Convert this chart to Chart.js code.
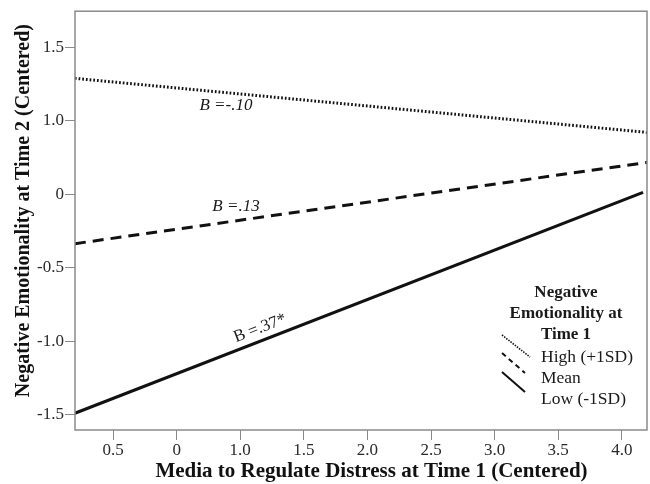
<!DOCTYPE html>
<html>
<head>
<meta charset="utf-8">
<script src="https://cdn.jsdelivr.net/npm/chart.js@4"></script>
<style>
  html, body { margin: 0; padding: 0; background: #fff; }
  #wrap { width: 650px; height: 484px; position: relative; }
</style>
</head>
<body>
<div id="wrap"><canvas id="myChart"></canvas></div>
<script>
// axis ticks as printed on the figure (labels are taken as-is)
let xTickValues = [0, 0.5, 1.0, 1.5, 2.0, 2.5, 3.0, 3.5, 4.0];
let xTickLabels = ["0.5", "0", "1.0", "1.5", "2.0", "2.5", "3.0", "3.5", "4.0"];
let yTickValues = [-1.5, -1.0, -0.5, 0, 0.5, 1.0];
let yTickLabels = ["-1.5", "-1.0", "-0.5", "0", "1.0", "1.5"];

// simple slopes, start and end of each line
let highX = [-0.3, 4.2];
let highY = [0.788, 0.420];
let meanX = [-0.3, 4.2];
let meanY = [-0.337, 0.216];
let lowX = [-0.3, 4.167];
let lowY = [-1.491, 0.012];

let seriesNames = ["High (+1SD)", "Mean", "Low (-1SD)"];
let legendTitle = ["Negative", "Emotionality at", "Time 1"];
let slopeLabels = ["B =-.10", "B =.13", "B =.37*"];

const serif = "'Liberation Serif', 'Times New Roman', serif";

function toPoints(xs, ys) {
    let pts = [];
    for (let i = 0; i < xs.length; i++) pts.push({ x: xs[i], y: ys[i] });
    return pts;
}

// box round the plot area
const frame = {
    id: "frame",
    afterDraw(chart) {
        const { ctx, chartArea: a } = chart;
        ctx.save();
        ctx.strokeStyle = "#8a8a8a";
        ctx.lineWidth = 1.5;
        ctx.strokeRect(a.left, a.top, a.right - a.left, a.bottom - a.top);
        ctx.restore();
    }
};

// B labels next to each line
const slopeText = {
    id: "slopeText",
    afterDatasetsDraw(chart) {
        const { ctx, scales: { x, y } } = chart;
        const spots = [
            { x: 0.888, y: 0.604, rot: 0, font: "italic 17px " + serif },
            { x: 0.967, y: -0.083, rot: 0, font: "italic 17px " + serif },
            { x: 1.156, y: -0.913, rot: -21, font: "17px " + serif }
        ];
        ctx.save();
        ctx.fillStyle = "#1a1a1a";
        ctx.textAlign = "center";
        ctx.textBaseline = "middle";
        spots.forEach((s, i) => {
            ctx.save();
            ctx.translate(x.getPixelForValue(s.x), y.getPixelForValue(s.y));
            ctx.rotate(s.rot * Math.PI / 180);
            ctx.font = s.font;
            ctx.fillText(slopeLabels[i], 0, 0);
            ctx.restore();
        });
        ctx.restore();
    }
};

// legend with slanted line samples
const slantLegend = {
    id: "slantLegend",
    afterDraw(chart) {
        const ctx = chart.ctx;
        const sets = chart.data.datasets;
        ctx.save();
        ctx.fillStyle = "#1a1a1a";
        ctx.textBaseline = "middle";
        ctx.textAlign = "center";
        ctx.font = "bold 17px " + serif;
        legendTitle.forEach((t, i) => ctx.fillText(t, 566, 293 + i * 21));

        ctx.textAlign = "left";
        ctx.font = "17.5px " + serif;
        const tops = [335, 353, 372];
        sets.forEach((ds, i) => {
            ctx.fillText(ds.label, 541, 357 + i * 21);
            ctx.beginPath();
            ctx.strokeStyle = "#111";
            ctx.lineWidth = i === 0 ? 1.6 : 2;
            ctx.setLineDash(i === 0 ? [1.5, 1.2] : (i === 1 ? [5, 4] : []));
            ctx.moveTo(502, tops[i]);
            ctx.lineTo(i === 0 ? 530 : 525, tops[i] + (i === 0 ? 22 : 20));
            ctx.stroke();
        });
        ctx.restore();
    }
};

const ctx = document.getElementById("myChart").getContext("2d");

new Chart(ctx, {
    type: "line",
    data: {
        datasets: [
            {
                label: seriesNames[0],
                data: toPoints(highX, highY),
                borderColor: "#111",
                borderWidth: 3,
                borderDash: [1.7, 2],
                pointRadius: 0
            },
            {
                label: seriesNames[1],
                data: toPoints(meanX, meanY),
                borderColor: "#111",
                borderWidth: 3,
                borderDash: [11, 7],
                pointRadius: 0
            },
            {
                label: seriesNames[2],
                data: toPoints(lowX, lowY),
                borderColor: "#111",
                borderWidth: 3,
                pointRadius: 0
            }
        ]
    },
    options: {
        responsive: true,
        maintainAspectRatio: false,
        animation: false,
        layout: { padding: { top: 11, right: 3, left: 0, bottom: 0 } },
        plugins: {
            legend: { display: false },
            tooltip: { enabled: false }
        },
        scales: {
            x: {
                type: "linear",
                min: -0.299,
                max: 4.198,
                afterBuildTicks: (s) => { s.ticks = xTickValues.map(v => ({ value: v })); },
                afterFit: (s) => { s.height = 54; },
                grid: { drawOnChartArea: false, drawTicks: true, tickLength: 10, color: "#8a8a8a" },
                border: { display: false },
                ticks: {
                    padding: 0,
                    color: "#2a2a2a",
                    font: { family: serif, size: 17 },
                    maxRotation: 0,
                    callback: function(value) {
                        let i = xTickValues.indexOf(value);
                        return i >= 0 ? xTickLabels[i] : "";
                    }
                },
                title: {
                    display: true,
                    text: "    Media to Regulate Distress at Time 1 (Centered)",
                    color: "#111",
                    font: { family: serif, size: 21, weight: "bold", lineHeight: 1 },
                    padding: { top: 0, bottom: 1.5 }
                }
            },
            y: {
                type: "linear",
                min: -1.605,
                max: 1.245,
                afterBuildTicks: (s) => { s.ticks = yTickValues.map(v => ({ value: v })); },
                afterFit: (s) => { s.width = 75; },
                grid: { drawOnChartArea: false, drawTicks: true, tickLength: 10, color: "#8a8a8a" },
                border: { display: false },
                ticks: {
                    padding: 1,
                    color: "#2a2a2a",
                    font: { family: serif, size: 17 },
                    callback: function(value) {
                        let i = yTickValues.indexOf(value);
                        return i >= 0 ? yTickLabels[i] : "";
                    }
                },
                title: {
                    display: true,
                    text: "    Negative Emotionality at Time 2 (Centered)",
                    color: "#111",
                    font: { family: serif, size: 20, weight: "bold", lineHeight: 1.2 },
                    padding: { top: 12, bottom: 4 }
                }
            }
        }
    },
    plugins: [frame, slopeText, slantLegend]
});
</script>
</body>
</html>
